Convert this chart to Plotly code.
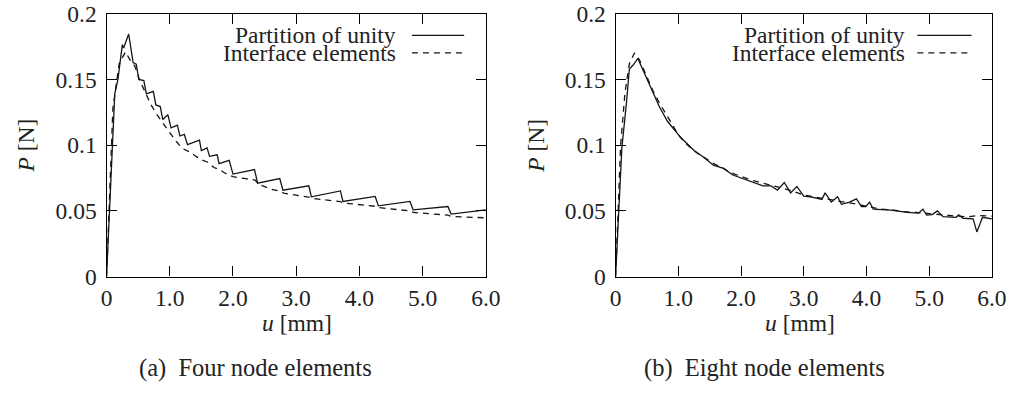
import plotly.graph_objects as go

# Load-displacement response, four node elements
u_pu_4 = [0, 0.13, 0.18, 0.25, 0.27, 0.35, 0.42, 0.47, 0.51, 0.59, 0.63, 0.74, 0.78, 0.85,
          0.89, 0.97, 1.02, 1.12, 1.16, 1.23, 1.28, 1.47, 1.50, 1.59, 1.63, 1.75, 1.78, 1.94,
          2.0, 2.34, 2.39, 2.74, 2.79, 3.2, 3.24, 3.70, 3.74, 4.25, 4.30, 4.80, 4.85, 5.40,
          5.45, 6.0]
p_pu_4 = [0, 0.139, 0.150, 0.1765, 0.174, 0.1846, 0.1628, 0.1616, 0.150, 0.1492, 0.139,
          0.141, 0.1306, 0.1294, 0.1195, 0.1232, 0.1132, 0.1152, 0.107, 0.1083, 0.1004,
          0.1039, 0.0959, 0.098, 0.0915, 0.0927, 0.086, 0.0885, 0.078, 0.0815, 0.0711,
          0.0746, 0.0657, 0.0691, 0.0607, 0.0652, 0.0572, 0.0610, 0.0538, 0.0572, 0.0508,
          0.0533, 0.0476, 0.0508]

u_ie_4 = [0, 0.1, 0.2, 0.3, 0.37, 0.45, 0.52, 0.6, 0.7, 0.8, 0.9, 1.0, 1.1, 1.2, 1.35, 1.4,
          1.5, 1.6, 1.7, 1.8, 1.9, 2.0, 2.2, 2.35, 2.4, 2.6, 2.75, 2.8, 3.0, 3.2, 3.25, 3.5,
          3.7, 3.75, 4.0, 4.25, 4.3, 4.6, 4.8, 4.85, 5.1, 5.4, 5.45, 5.7, 6.0]
p_ie_4 = [0, 0.128, 0.162, 0.171, 0.165, 0.160, 0.150, 0.141, 0.131, 0.123, 0.116, 0.1095,
          0.103, 0.0975, 0.094, 0.092, 0.089, 0.087, 0.083, 0.081, 0.078, 0.076, 0.0745,
          0.0735, 0.0705, 0.0665, 0.0650, 0.0635, 0.0620, 0.0605, 0.0595, 0.0580, 0.0570,
          0.0560, 0.0545, 0.0535, 0.0525, 0.0510, 0.0500, 0.0488, 0.0478, 0.0468, 0.0458,
          0.0452, 0.0447]

# Load-displacement response, eight node elements
u_pu_8 = [0, 0.10, 0.17, 0.22, 0.28, 0.355, 0.41, 0.51, 0.62, 0.70, 0.83, 1.04, 1.25, 1.40,
          1.56, 1.72, 1.87, 2.08, 2.19, 2.35, 2.48, 2.58, 2.69, 2.79, 2.89, 3.0, 3.13, 3.29,
          3.34, 3.44, 3.54, 3.6, 3.73, 3.84, 3.92, 3.99, 4.05, 4.11, 4.39, 4.65, 4.83, 4.9,
          4.96, 5.05, 5.13, 5.22, 5.43, 5.47, 5.54, 5.70, 5.76, 5.85, 6.0]
p_pu_8 = [0, 0.098, 0.1306, 0.158, 0.161, 0.166, 0.160, 0.149, 0.138, 0.129, 0.118, 0.1058,
          0.0959, 0.091, 0.0848, 0.0823, 0.0773, 0.0736, 0.0719, 0.069, 0.069, 0.0657,
          0.0716, 0.0637, 0.0686, 0.0612, 0.0605, 0.0587, 0.0637, 0.0567, 0.0607, 0.055,
          0.0567, 0.0592, 0.0533, 0.0533, 0.0567, 0.0513, 0.0506, 0.0488, 0.0483, 0.0513,
          0.0468, 0.0472, 0.050, 0.0456, 0.0451, 0.047, 0.0444, 0.0439, 0.034, 0.0451,
          0.0439]

u_ie_8 = [0, 0.08, 0.15, 0.22, 0.30, 0.38, 0.5, 0.6, 0.7, 0.8, 0.9, 1.0, 1.1, 1.2, 1.3, 1.4,
          1.5, 1.6, 1.7, 1.8, 1.9, 2.0, 2.1, 2.2, 2.4, 2.6, 2.8, 3.0, 3.2, 3.4, 3.6, 3.8, 4.0,
          4.2, 4.4, 4.6, 4.8, 5.0, 5.2, 5.4, 5.6, 5.8, 6.0]
p_ie_8 = [0, 0.10, 0.14, 0.162, 0.170, 0.165, 0.152, 0.141, 0.132, 0.124, 0.116, 0.108,
          0.102, 0.098, 0.094, 0.091, 0.088, 0.085, 0.083, 0.080, 0.078, 0.076, 0.0745,
          0.073, 0.0705, 0.068, 0.0655, 0.062, 0.0605, 0.059, 0.0575, 0.0555, 0.0535,
          0.0515, 0.0508, 0.0495, 0.0488, 0.0478, 0.047, 0.0462, 0.0455, 0.0465, 0.046]

x_ticks = [0, 1, 2, 3, 4, 5, 6]
x_tick_text = ["0", "1.0", "2.0", "3.0", "4.0", "5.0", "6.0"]
y_ticks = [0, 0.05, 0.1, 0.15, 0.2]
y_tick_text = ["0", "0.05", "0.1", "0.15", "0.2"]

series_names = ["Partition of unity", "Interface elements"]
captions = ["(a)&nbsp;&nbsp;Four node elements", "(b)&nbsp;&nbsp;Eight node elements"]

FONT = "Liberation Serif"
INK = "#151515"
TXT = "#222222"
DASH = "6px,5px"

W, H = 1027, 394
# screen placement of the figure inside the captured page
SX, OX = 0.9943, 1.94
SY, OY = 0.956, 9.2


def fx(px):
    """Screen x pixel -> paper fraction."""
    return (px - OX) / SX / W


def fy(py):
    """Screen y pixel (from top) -> paper fraction."""
    return 1 - (py - OY) / SY / H


fig = go.Figure()

panels = [
    ("x", "y", u_pu_4, p_pu_4, u_ie_4, p_ie_4),
    ("x2", "y2", u_pu_8, p_pu_8, u_ie_8, p_ie_8),
]
for xa, ya, u1, p1, u2, p2 in panels:
    fig.add_trace(go.Scatter(x=u1, y=p1, mode="lines", xaxis=xa, yaxis=ya,
                             line=dict(color=INK, width=1.3), showlegend=False))
    fig.add_trace(go.Scatter(x=u2, y=p2, mode="lines", xaxis=xa, yaxis=ya,
                             line=dict(color=INK, width=1.3, dash=DASH), showlegend=False))

y_dom = [fy(279), fy(10)]
x_doms = [[fx(104), fx(489)], [fx(620.7), fx(1002.7)]]

axis_common = dict(
    showline=True, linecolor="black", linewidth=1.2, mirror="allticks",
    ticks="inside", ticklen=10, tickwidth=1, tickcolor="black",
    showgrid=False, zeroline=False, ticklabeloverflow="allow",
    tickfont=dict(family=FONT, size=23.5, color=TXT),
)
x_axis = dict(range=[0, 6], tickvals=x_ticks, ticktext=x_tick_text,
              ticklabelstandoff=0, **axis_common)
y_axis = dict(range=[0, 0.2], tickvals=y_ticks, ticktext=y_tick_text,
              ticklabelstandoff=4, **axis_common)

fig.update_layout(
    width=W, height=H, margin=dict(l=0, r=0, t=0, b=0),
    plot_bgcolor="white", paper_bgcolor="white",
    xaxis=dict(domain=x_doms[0], anchor="y", **x_axis),
    yaxis=dict(domain=y_dom, anchor="x", **y_axis),
    xaxis2=dict(domain=x_doms[1], anchor="y2", **x_axis),
    yaxis2=dict(domain=y_dom, anchor="x2", **y_axis),
)

annotations = []
shapes = []
title_x = [22, 540]
xlabel_x = [297, 808]
caption_x = [255, 772]
key_text_right = [400, 916]
key_line = [(414, 467), (927, 982)]
key_y = [32, 50]


def label(text, x, y, size, **kw):
    return dict(text=text, x=x, y=y, xref="paper", yref="paper", showarrow=False,
                yanchor="middle", font=dict(family=FONT, size=size, color=TXT), **kw)


for i in range(2):
    # axis titles and sub-figure caption
    annotations.append(label("<i>P</i> [N]", fx(title_x[i]), fy(145), 23.5,
                             xanchor="center", textangle=-90))
    annotations.append(label("<i>u</i> [mm]", fx(xlabel_x[i]), fy(327), 23.5,
                             xanchor="center"))
    annotations.append(label(captions[i], fx(caption_x[i]), fy(373), 24.5,
                             xanchor="center"))
    # key inside the plot area
    for k, name in enumerate(series_names):
        annotations.append(label(name, fx(key_text_right[i]), fy(key_y[k]), 23.5,
                                 xanchor="right"))
        shapes.append(dict(type="line", xref="paper", yref="paper",
                           x0=fx(key_line[i][0]), x1=fx(key_line[i][1]),
                           y0=fy(key_y[k]), y1=fy(key_y[k]),
                           line=dict(color=INK, width=1.3,
                                     dash="solid" if k == 0 else DASH)))

fig.update_layout(annotations=annotations, shapes=shapes)

fig.write_html("out.html")
